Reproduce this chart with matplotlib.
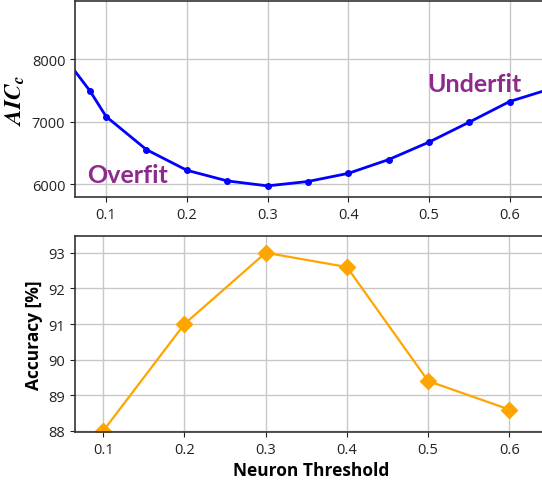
import matplotlib
matplotlib.use('Agg')
import matplotlib.pyplot as plt

# AICc vs neuron threshold (top panel)
thr_aic = [0.05, 0.08, 0.10, 0.15, 0.20, 0.25, 0.30, 0.35, 0.40, 0.45, 0.50, 0.55, 0.60, 0.65]
aic = [8000, 7490, 7080, 6550, 6220, 6050, 5970, 6040, 6170, 6390, 6670, 6990, 7320, 7520]

# Accuracy vs neuron threshold (bottom panel)
thr_acc = [0.1, 0.2, 0.3, 0.4, 0.5, 0.6]
acc = [88.0, 91.0, 93.0, 92.6, 89.4, 88.6]

xticks = [0.1, 0.2, 0.3, 0.4, 0.5, 0.6]

plt.rcParams['font.family'] = ['Open Sans', 'DejaVu Sans']
plt.rcParams['mathtext.fontset'] = 'stix'

fig = plt.figure(figsize=(5.42, 4.85), dpi=100)
W, H = 542, 485

def pos(l, t, r, b):
    return [l / W, 1 - b / H, (r - l) / W, (b - t) / H]

ax1 = fig.add_axes(pos(75, 2, 548, 198))
ax2 = fig.add_axes(pos(75, 237, 548, 433))

ax1.plot(thr_aic, aic, color='blue', lw=2, marker='o', ms=4)
ax1.set_xlim(0.0615, 0.6475)
ax1.set_ylim(5792, 8928)
ax1.set_yticks([6000, 7000, 8000])
ax1.set_xticks(xticks)
ax1.set_ylabel(r'$\mathbfit{AIC_c}$', fontsize=17, labelpad=3)
ax1.text(0.0764, 6035, 'Overfit', color='#8E2A8C', fontsize=18, fontweight='bold',
         family=['Lato', 'DejaVu Sans'])
ax1.text(0.498, 7490, 'Underfit', color='#8E2A8C', fontsize=18, fontweight='bold',
         family=['Lato', 'DejaVu Sans'])

ax2.plot(thr_acc, acc, color='orange', lw=1.6, marker='D', ms=8)
ax2.set_xlim(0.0653, 0.6475)
ax2.set_ylim(87.97, 93.47)
ax2.set_yticks([88, 89, 90, 91, 92, 93])
ax2.set_xticks(xticks)
ax2.set_ylabel('Accuracy [%]', fontsize=12.5, fontweight='bold')
ax2.set_xlabel('Neuron Threshold', fontsize=12.5, fontweight='bold', labelpad=3)

for ax in (ax1, ax2):
    ax.grid(True, color='#c8c8c8', lw=1)
    ax.set_axisbelow(True)
    ax.tick_params(labelsize=10.5, colors='#222222', length=3.5)
    for s in ax.spines.values():
        s.set_color('#333333')
        s.set_linewidth(1.2)

fig.savefig('out.png', dpi=100)
